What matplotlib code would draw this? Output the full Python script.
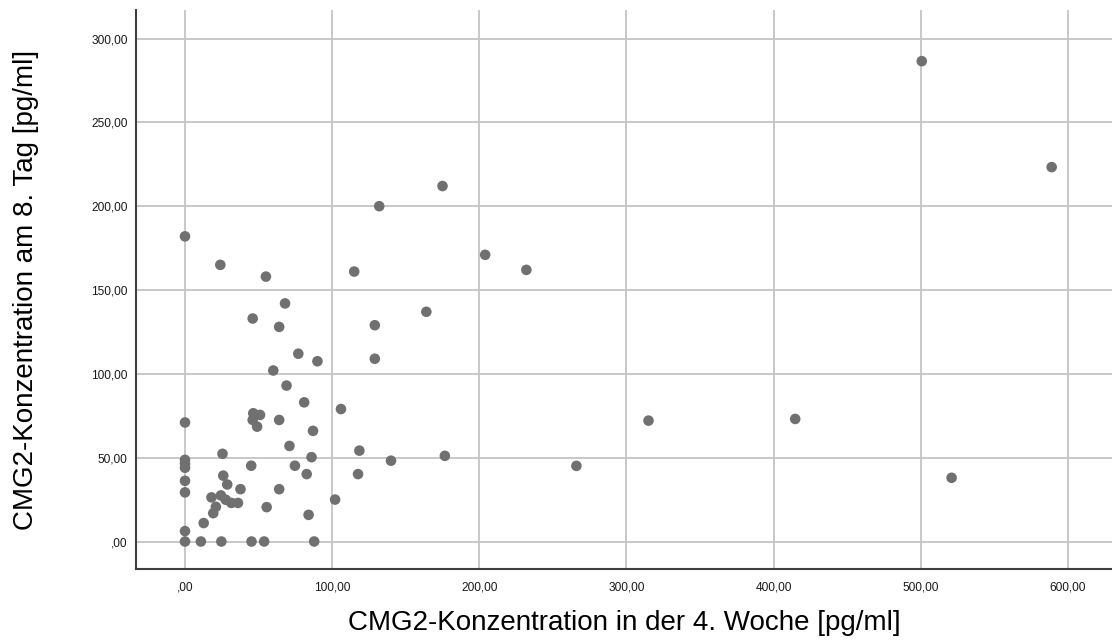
import matplotlib
matplotlib.use("Agg")
import matplotlib.pyplot as plt
from matplotlib.ticker import FuncFormatter

# CMG2 concentration, week 4 (x) vs. day 8 (y), pg/ml
woche4 = [0, 24, 55, 115, 132, 175, 204, 232, 164, 129, 129, 68, 46, 64, 77,
          90, 60, 69, 81, 106, 0, 46.4, 51, 46, 49, 64, 87, 71, 25.5, 118.5,
          86, 140, 0, 0, 0, 45, 74.7, 82.7, 117.6, 26, 0, 28.7, 37.7, 64, 0,
          18, 24.4, 27.7, 31.5, 36, 21, 19.2, 55.5, 102, 84, 12.7, 0, 0, 10.8,
          24.7, 45.2, 53.8, 87.8, 176.6, 266, 315, 414.7, 521, 500.7, 589]
tag8 = [182, 165, 158, 161, 200, 212, 171, 162, 137, 129, 109, 142, 133, 128,
        112, 107.5, 102, 93, 83, 79, 71, 76.5, 75.5, 72.5, 68.5, 72.5, 66, 57,
        52.3, 54.2, 50.3, 48.2, 48.7, 46.4, 44, 45.2, 45.2, 40.2, 40.2, 39.3,
        36.2, 34, 31.2, 31.2, 29.3, 26.3, 27.5, 24.9, 23, 23, 20.7, 16.9, 20.5,
        25, 15.9, 11, 6.2, 0, 0, 0, 0, 0, 0, 51.1, 45.1, 72.1, 73.1, 38, 286.5,
        223.3]

x_ticks = [0, 100, 200, 300, 400, 500, 600]
y_ticks = [0, 50, 100, 150, 200, 250, 300]


def de_format(v, pos=None):
    # German decimal comma, SPSS style (",00" for zero)
    s = f"{v:.2f}".replace(".", ",")
    if s.startswith("0,"):
        s = s[1:]
    return s


plt.rcParams["font.family"] = ["Liberation Sans", "DejaVu Sans"]

fig = plt.figure(figsize=(11.12, 6.41), dpi=100)
ax = fig.add_axes([136 / 1112, (641 - 569) / 641, (1112 - 136) / 1112, (569 - 10) / 641])

ax.scatter(woche4, tag8, s=58, color="#707070", edgecolors="none", zorder=3)

ax.set_xlim(-33.3, 630)
ax.set_ylim(-16.4, 317)
ax.set_xticks(x_ticks)
ax.set_yticks(y_ticks)
ax.xaxis.set_major_formatter(FuncFormatter(de_format))
ax.yaxis.set_major_formatter(FuncFormatter(de_format))
ax.tick_params(axis="x", length=0, pad=9, labelsize=8.6, labelcolor="#1a1a1a")
ax.tick_params(axis="y", length=0, pad=6, labelsize=8.6, labelcolor="#1a1a1a")

ax.grid(True, color="#c4c4c4", linewidth=1.3, zorder=0)
ax.set_axisbelow(True)

for side in ("top", "right"):
    ax.spines[side].set_visible(False)
for side in ("left", "bottom"):
    ax.spines[side].set_color("#404040")
    ax.spines[side].set_linewidth(1.5)

ax.set_xlabel("CMG2-Konzentration in der 4. Woche [pg/ml]", fontsize=20, labelpad=12)
ax.set_ylabel("CMG2-Konzentration am 8. Tag [pg/ml]", fontsize=20, labelpad=38)

fig.savefig("out.png", dpi=100)
